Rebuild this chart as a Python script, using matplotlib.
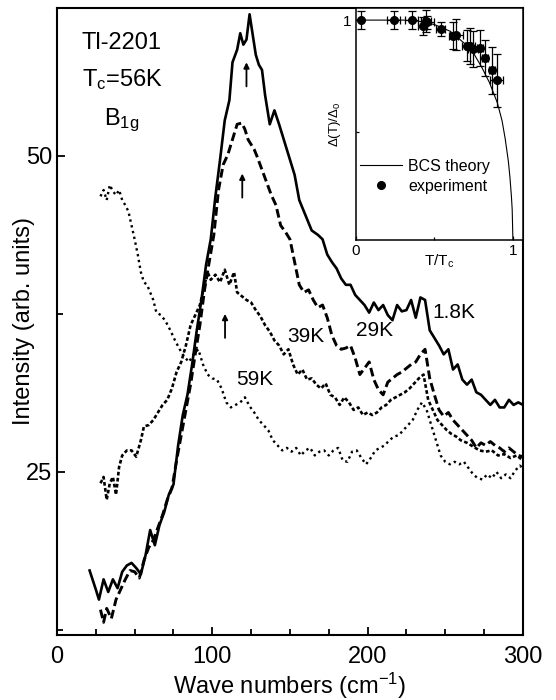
import numpy as np
import matplotlib
matplotlib.use('Agg')
import matplotlib.pyplot as plt
from matplotlib.lines import Line2D
from matplotlib.ticker import MultipleLocator, FixedLocator

plt.rcParams['font.family'] = ['Liberation Sans', 'DejaVu Sans']
plt.rcParams['mathtext.fontset'] = 'custom'
plt.rcParams['mathtext.rm'] = 'Liberation Sans'
plt.rcParams['mathtext.it'] = 'Liberation Sans:italic'

#---------------------------------------------------------
# B1g Raman spectra (wave numbers in cm-1, intensity in arb. units)
wave_18K = [21, 25, 27, 30, 33, 36, 39, 42, 45, 48, 51, 54, 57, 60, 63, 66, 69, 72, 75,
            78, 81, 84, 87, 90, 93, 96, 99, 102, 105, 108, 111, 113, 116, 118, 120, 122,
            124, 126, 128, 130, 132, 134, 137, 140, 143, 146, 150, 153, 156, 160, 164,
            168, 171, 174, 177, 180, 183, 186, 189, 192, 195, 198, 201, 204, 207, 210,
            213, 216, 219, 222, 225, 228, 231, 234, 237, 240, 243, 246, 249, 252, 255,
            258, 261, 264, 267, 270, 273, 276, 279, 282, 285, 288, 291, 294, 297, 300]
int_18K = [17.2, 15.7, 14.9, 16.5, 15.5, 16.5, 15.8, 17.1, 17.6, 17.8, 17.4, 16.9, 18.4,
           20.4, 19.2, 20.8, 21.8, 23.2, 24.0, 27.1, 29.5, 31.1, 33.5, 36.2, 38.6, 41.4,
           43.4, 46.8, 49.7, 52.8, 54.4, 57.4, 58.4, 59.7, 58.8, 59.2, 61.2, 59.6, 58.0,
           57.2, 56.8, 54.8, 52.5, 53.6, 52.5, 51.3, 49.7, 48.5, 46.5, 45.3, 44.1, 43.75,
           43.4, 42.2, 41.6, 41.1, 40.3, 39.8, 39.8, 39.0, 38.6, 38.2, 37.6, 38.4, 37.8,
           38.2, 37.4, 37.0, 38.2, 37.7, 37.8, 38.6, 37.2, 38.8, 38.6, 36.2, 35.6, 35.0,
           34.3, 34.7, 33.1, 33.5, 32.3, 31.9, 32.3, 31.3, 31.1, 30.7, 30.3, 30.7, 30.1,
           30.1, 30.7, 30.3, 30.5, 30.3]

wave_29K = [28, 30, 32, 35, 38, 41, 44, 47, 50, 53, 56, 59, 62, 65, 68, 71, 74, 77, 80,
            83, 86, 89, 92, 95, 98, 101, 104, 107, 110, 113, 116, 119, 121, 123, 125, 127,
            129, 132, 135, 138, 141, 144, 147, 150, 153, 156, 159, 162, 165, 168, 171,
            174, 177, 180, 183, 186, 189, 192, 195, 198, 201, 204, 207, 210, 213, 216,
            219, 222, 225, 228, 231, 234, 237, 240, 243, 246, 249, 252, 255, 258, 261,
            264, 267, 270, 273, 276, 279, 282, 285, 288, 291, 294, 297, 300]
int_29K = [14.1, 13.1, 14.2, 13.4, 14.9, 15.7, 16.5, 17.2, 17.1, 16.6, 18.0, 19.0, 19.6,
           20.6, 21.6, 22.8, 23.7, 25.9, 27.9, 29.9, 31.9, 34.3, 36.6, 39.4, 41.6, 43.75,
           47.3, 49.3, 50.1, 51.3, 52.5, 52.6, 52.1, 51.3, 50.9, 50.5, 49.9, 48.9, 47.9,
           46.9, 46.1, 44.5, 44.0, 43.4, 41.6, 39.8, 39.2, 39.4, 38.6, 38.0, 38.2, 37.2,
           35.8, 35.0, 34.7, 34.8, 35.0, 34.0, 32.7, 33.2, 33.7, 32.3, 31.5, 31.1, 32.1,
           32.4, 32.7, 32.9, 33.2, 33.5, 33.7, 34.3, 34.7, 32.4, 31.1, 29.9, 29.4, 29.7,
           29.1, 28.7, 28.3, 27.9, 27.5, 26.9, 27.3, 27.1, 27.4, 27.1, 26.9, 26.6, 26.9,
           26.6, 26.3, 26.2]

wave_39K = [28, 30, 32, 34, 36, 38, 40, 42, 45, 48, 51, 54, 56, 59, 62, 65, 68, 71, 74,
            77, 80, 83, 86, 89, 92, 95, 97, 99, 102, 105, 108, 111, 114, 116, 119, 122,
            125, 128, 131, 134, 137, 140, 143, 146, 149, 152, 155, 158, 161, 164, 167,
            170, 173, 176, 179, 182, 185, 188, 191, 194, 197, 200, 203, 206, 209, 212,
            215, 218, 221, 224, 227, 230, 233, 236, 239, 242, 245, 248, 251, 254, 257,
            260, 264, 268, 272, 276, 280, 284, 288, 292, 296, 300]
int_39K = [24.1, 24.6, 22.8, 24.1, 24.6, 23.2, 25.4, 26.3, 26.7, 26.7, 26.2, 27.5, 28.6,
           28.7, 29.1, 29.7, 30.3, 30.7, 31.6, 32.9, 33.7, 35.0, 36.6, 37.4, 38.2, 39.8,
           40.8, 40.2, 40.6, 40.0, 41.0, 39.8, 40.8, 39.2, 38.9, 38.6, 38.4, 37.8, 37.3,
           36.6, 36.1, 35.4, 35.0, 34.3, 34.7, 33.5, 32.7, 33.1, 32.3, 32.4, 31.9, 31.6,
           32.0, 31.1, 30.9, 30.3, 30.9, 30.5, 29.9, 30.1, 29.5, 29.7, 29.5, 29.7, 30.1,
           30.3, 30.7, 30.9, 31.1, 31.3, 31.6, 32.0, 32.4, 32.7, 30.7, 29.9, 29.1, 28.7,
           28.3, 28.0, 27.8, 27.5, 27.3, 27.0, 26.7, 26.6, 26.7, 26.3, 26.4, 26.1, 26.3,
           25.9]

wave_59K = [28, 30, 32, 34, 36, 38, 40, 42, 44, 46, 48, 50, 52, 54, 56, 58, 60, 62, 64,
            67, 70, 73, 76, 79, 82, 85, 88, 91, 94, 97, 100, 103, 106, 109, 112, 115, 118,
            121, 124, 127, 130, 133, 136, 139, 142, 145, 148, 151, 154, 157, 160, 163,
            166, 169, 172, 175, 178, 181, 184, 187, 190, 193, 196, 199, 202, 205, 208,
            211, 214, 217, 220, 223, 226, 229, 232, 235, 238, 241, 244, 247, 250, 253,
            256, 259, 262, 265, 268, 271, 274, 277, 280, 283, 286, 289, 292, 295, 298, 300]
int_59K = [46.8, 47.3, 46.5, 47.7, 47.2, 46.9, 47.3, 46.5, 46.1, 45.6, 44.5, 43.4, 42.2,
           40.8, 40.0, 39.8, 39.2, 38.6, 37.6, 37.4, 36.9, 36.2, 35.4, 34.7, 34.1, 33.7,
           34.3, 34.7, 33.5, 32.7, 32.4, 32.3, 31.6, 30.5, 30.1, 30.3, 30.5, 30.9, 30.2,
           29.7, 29.1, 28.7, 28.3, 27.5, 27.1, 26.7, 26.9, 26.6, 26.9, 26.3, 26.7, 26.9,
           26.3, 26.6, 26.7, 26.3, 26.7, 26.9, 25.9, 25.8, 26.6, 26.7, 26.1, 25.6, 26.1,
           26.7, 26.9, 27.1, 27.5, 27.8, 27.9, 28.3, 28.7, 29.1, 29.9, 30.5, 29.9, 28.7,
           27.5, 26.3, 25.8, 25.6, 25.8, 25.6, 25.8, 25.3, 24.8, 24.5, 24.4, 24.8, 24.5,
           25.0, 24.5, 24.8, 24.5, 25.1, 25.5, 25.3]

# gap position arrows (x, y tail, y head)
arrow_x    = [122, 119.3, 108.2]
arrow_tail = [55.5, 46.7, 35.6]
arrow_head = [57.4, 48.6, 37.5]

# inset: gap vs temperature
bcs_t   = [0.0, 0.1, 0.2, 0.3, 0.4, 0.5, 0.6, 0.7, 0.75, 0.8, 0.85, 0.9, 0.93, 0.95, 0.96,
           0.97, 0.98, 0.99, 0.995, 1.0]
bcs_gap = [1.0, 1.0, 1.0, 1.0, 0.995, 0.98, 0.95, 0.89, 0.85, 0.79, 0.72, 0.63, 0.55, 0.47,
           0.42, 0.37, 0.30, 0.21, 0.15, 0.0]
exp_t    = [0.03, 0.24, 0.355, 0.425, 0.445, 0.455, 0.54, 0.62, 0.64, 0.705, 0.725, 0.745,
            0.79, 0.82, 0.865, 0.895]
exp_gap  = [1.0, 1.0, 1.0, 0.975, 0.995, 0.99, 0.96, 0.93, 0.935, 0.885, 0.885, 0.87,
            0.875, 0.83, 0.775, 0.73]
exp_yerr = [0.04, 0.04, 0.04, 0.04, 0.05, 0.03, 0.03, 0.06, 0.07, 0.07, 0.08, 0.08,
            0.08, 0.08, 0.105, 0.12]
exp_xerr = [0.0, 0.04, 0.04, 0.03, 0.03, 0.04, 0.03, 0.03, 0.04, 0.03, 0.03, 0.03,
            0.02, 0.02, 0.02, 0.04]
#---------------------------------------------------------

fig = plt.figure(figsize=(5.56, 7.0), dpi=100)
ax = fig.add_axes([0.1025, 0.0929, 0.838, 0.8957])

ax.plot(wave_59K, int_59K, color='k', lw=1.7, linestyle=(0, (1, 1.5)))
ax.plot(wave_39K, int_39K, color='k', lw=1.9, linestyle=(0, (1.4, 0.9)))
ax.plot(wave_29K, int_29K, color='k', lw=2.1, linestyle=(0, (3, 1.4)))
ax.plot(wave_18K, int_18K, color='k', lw=1.9, linestyle='-')

for xa, yt, yh in zip(arrow_x, arrow_tail, arrow_head):
	ax.annotate('', xy=(xa, yh), xytext=(xa, yt),
	            arrowprops=dict(arrowstyle='-|>', color='k', lw=1.3, mutation_scale=8,
	                            shrinkA=0, shrinkB=0))

ax.text(242, 37.6, '1.8K', fontsize=15, va='center', ha='left')
ax.text(192.5, 36.2, '29K', fontsize=15, va='center', ha='left')
ax.text(148, 35.7, '39K', fontsize=15, va='center', ha='left')
ax.text(115.3, 32.3, '59K', fontsize=15, va='center', ha='left')

ax.text(16, 58.9, 'Tl-2201', fontsize=17, va='center', ha='left')
ax.text(16, 56.0, r'T$_\mathregular{c}$=56K', fontsize=17, va='center', ha='left')
ax.text(30.5, 52.8, r'B$_\mathregular{1g}$', fontsize=17, va='center', ha='left')

ax.set_xlim(0, 300)
ax.set_ylim(12.1, 61.7)
ax.xaxis.set_major_locator(MultipleLocator(100))
ax.xaxis.set_minor_locator(MultipleLocator(25))
ax.yaxis.set_major_locator(FixedLocator([25, 50]))
ax.yaxis.set_minor_locator(FixedLocator([12.5, 37.5]))
ax.tick_params(which='both', direction='in', labelsize=17, width=1.3)
ax.tick_params(which='major', length=6)
ax.tick_params(which='minor', length=4)
ax.tick_params(axis='x', pad=8)
for sp in ax.spines.values():
	sp.set_linewidth(1.5)
ax.set_xlabel(r'Wave numbers (cm$^\mathregular{-1}$)', fontsize=17, labelpad=2)
ax.set_ylabel('Intensity (arb. units)', fontsize=17)
ax.yaxis.set_label_coords(-0.048, 0.5)

#---------------------------------------------------------
# inset
ins = fig.add_axes([0.6403, 0.6571, 0.3004, 0.3314])
ins.set_facecolor('white')
ins.plot(bcs_t, bcs_gap, color='k', lw=0.8)
ins.errorbar(exp_t, exp_gap, yerr=exp_yerr, xerr=exp_xerr, fmt='o', color='k',
             ms=5.5, elinewidth=0.9, capsize=3, capthick=0.9)
ins.set_xlim(0, 1.064)
ins.set_ylim(0.014, 1.054)
ins.xaxis.set_major_locator(FixedLocator([0, 1]))
ins.xaxis.set_minor_locator(FixedLocator([0.5]))
ins.yaxis.set_major_locator(FixedLocator([1]))
ins.yaxis.set_minor_locator(FixedLocator([0.5]))
ins.tick_params(which='both', direction='in', labelsize=11, width=0.9, pad=3)
ins.tick_params(which='major', length=3)
ins.tick_params(which='minor', length=2)
for sp in ins.spines.values():
	sp.set_linewidth(1.1)
ins.set_xlabel(r'T/T$_\mathregular{c}$', fontsize=11, labelpad=-4)
ins.set_ylabel(r'$\mathregular{\Delta(T)/\Delta_0}$', fontsize=9.5, labelpad=0)
leg_handles = [Line2D([], [], color='k', lw=0.8),
               Line2D([], [], color='k', marker='o', ms=5.5, linestyle='none')]
ins.legend(leg_handles, ['BCS theory', 'experiment'], loc='center left',
           bbox_to_anchor=(-0.06, 0.275), frameon=False, fontsize=11.5,
           handlelength=2.6, handletextpad=0.4, labelspacing=0.3, numpoints=1)

fig.savefig('out.png', dpi=100)
